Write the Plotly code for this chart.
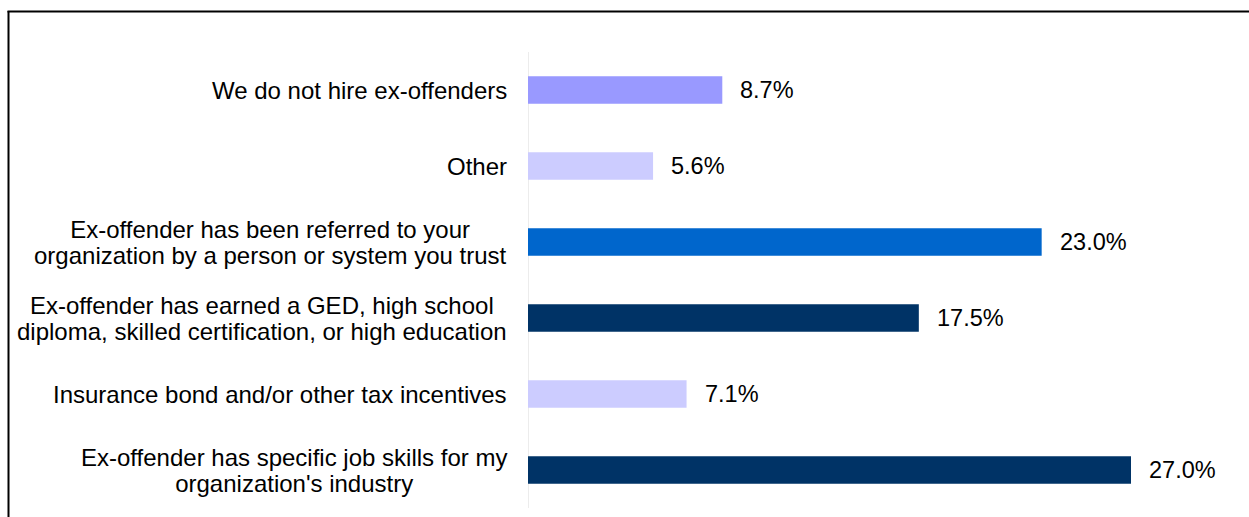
import plotly.graph_objects as go

# Survey responses, listed bottom to top
categories = [
    "Ex-offender has specific job skills for my<br>organization's industry",
    "Insurance bond and/or other tax incentives",
    "Ex-offender has earned a GED, high school<br>diploma, skilled certification, or high education",
    "Ex-offender has been referred to your<br>organization by a person or system you trust",
    "Other",
    "We do not hire ex-offenders",
]
values = [27.0, 7.1, 17.5, 23.0, 5.6, 8.7]
bar_colors = ["#003366", "#CCCCFF", "#003366", "#0066CC", "#CCCCFF", "#9999FF"]

W, H = 1249, 517
ML, MR, MT, MB = 528, 51, 52, 9
X_MAX = 30

fig = go.Figure(
    go.Bar(
        x=values,
        y=categories,
        orientation="h",
        marker=dict(color=bar_colors, line=dict(width=0)),
        width=0.36,
        hoverinfo="skip",
    )
)

FONT = "Liberation Sans, Arial, sans-serif"


def sized(label, px=24):
    # larger glyphs on a tighter line pitch (pitch follows the base font size)
    return "<br>".join(
        f"<span style='font-size:{px}px'>{part}</span>" for part in label.split("<br>")
    )


annotations = []
for cat, val in zip(categories, values):
    # category label, lines centred, right edge near the axis
    annotations.append(dict(
        x=0, y=cat, xref="x", yref="y", text=sized(cat),
        xanchor="right", yanchor="middle", align="center",
        xshift=-19, showarrow=False,
        font=dict(family=FONT, size=20, color="#000000"),
    ))
    # value label to the right of each bar
    annotations.append(dict(
        x=val, y=cat, xref="x", yref="y", text=f"{val:.1f}%",
        xanchor="left", yanchor="middle", xshift=16, showarrow=False,
        font=dict(family=FONT, size=23.5, color="#000000"),
    ))

# frame around the figure (paper coordinates extend past the plot area)
pw = W - ML - MR
ph = H - MT - MB


def px_x(p):
    return (p - ML) / pw


def px_y(p):
    return 1 - (p - MT) / ph


shapes = [
    dict(type="line", xref="paper", yref="paper",
         x0=px_x(8.5), x1=px_x(8.5), y0=px_y(11), y1=px_y(530),
         line=dict(color="#000000", width=2)),
    dict(type="line", xref="paper", yref="paper",
         x0=px_x(7.5), x1=px_x(1260), y0=px_y(11.5), y1=px_y(11.5),
         line=dict(color="#000000", width=2)),
    # category axis line
    dict(type="line", xref="x", yref="paper", x0=0, x1=0, y0=0, y1=1,
         line=dict(color="#D9D9D9", width=1), layer="below"),
]

fig.update_layout(
    width=W, height=H,
    margin=dict(l=ML, r=MR, t=MT, b=MB, pad=0),
    paper_bgcolor="#FFFFFF", plot_bgcolor="#FFFFFF",
    showlegend=False,
    xaxis=dict(range=[0, X_MAX], visible=False, fixedrange=True),
    yaxis=dict(showticklabels=False, showgrid=False, zeroline=False,
               showline=False, ticks="", fixedrange=True,
               range=[-0.5, len(categories) - 0.5]),
    annotations=annotations,
    shapes=shapes,
)

fig.write_html("out.html", config={"displayModeBar": False})
